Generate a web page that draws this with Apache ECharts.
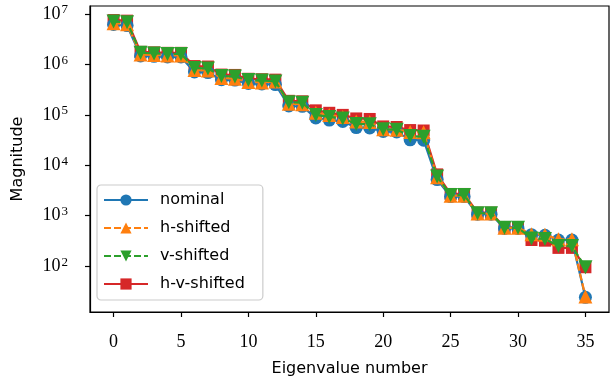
<!DOCTYPE html>
<html>
<head>
<meta charset="utf-8">
<script src="https://cdn.jsdelivr.net/npm/echarts@6/dist/echarts.min.js"></script>
<style>html,body{margin:0;padding:0;background:#fff}#c{width:611px;height:377px}</style>
</head>
<body>
<div id="c"></div>
<script>
const eigIndex = Array.from({length: 36}, (_, i) => i);
const xTicks = [0, 5, 10, 15, 20, 25, 30, 35];
const yTicks = [1e2, 1e3, 1e4, 1e5, 1e6, 1e7];
const seriesNames = ['nominal', 'h-shifted', 'v-shifted', 'h-v-shifted'];

const nominal = [6.2e6, 5.9e6, 1.48e6, 1.45e6, 1.41e6, 1.41e6, 7.1e5, 6.9e5, 5.0e5, 4.9e5, 4.2e5, 4.1e5, 4.0e5, 1.5e5, 1.48e5, 8.7e4, 7.9e4, 7.4e4, 5.6e4, 5.5e4, 4.7e4, 4.6e4, 3.2e4, 3.15e4, 5.2e3, 2.4e3, 2.4e3, 1.07e3, 1.07e3, 560, 560, 420, 410, 330, 330, 24];
const hShifted = [6.6e6, 6.3e6, 1.58e6, 1.55e6, 1.51e6, 1.51e6, 7.8e5, 7.6e5, 5.4e5, 5.2e5, 4.5e5, 4.4e5, 4.6e5, 1.66e5, 1.62e5, 1.1e5, 1.0e5, 9.1e4, 7.4e4, 7.2e4, 5.2e4, 5.1e4, 4.6e4, 4.5e4, 5.8e3, 2.5e3, 2.5e3, 1.1e3, 1.1e3, 575, 575, 430, 420, 340, 340, 25];
const vShifted = [7.1e6, 6.9e6, 1.7e6, 1.66e6, 1.62e6, 1.62e6, 8.5e5, 8.3e5, 5.9e5, 5.75e5, 4.9e5, 4.8e5, 4.6e5, 1.78e5, 1.74e5, 1.0e5, 9.1e4, 8.5e4, 6.6e4, 6.5e4, 5.2e4, 5.1e4, 3.8e4, 3.7e4, 6.0e3, 2.57e3, 2.57e3, 1.12e3, 1.12e3, 575, 575, 355, 345, 250, 250, 95];
const hvShifted = [7.6e6, 7.4e6, 1.78e6, 1.74e6, 1.7e6, 1.7e6, 9.3e5, 9.1e5, 6.3e5, 6.2e5, 5.2e5, 5.1e5, 5.0e5, 1.9e5, 1.86e5, 1.23e5, 1.1e5, 1.0e5, 8.5e4, 8.3e4, 5.9e4, 5.75e4, 5.0e4, 4.9e4, 6.6e3, 2.7e3, 2.7e3, 1.15e3, 1.15e3, 590, 590, 330, 320, 230, 230, 95];

const colors = ['#1f77b4', '#ff7f0e', '#2ca02c', '#d62728'];
const pair = arr => eigIndex.map((x, i) => [x, arr[i]]);

const chart = echarts.init(document.getElementById('c'), null, {renderer: 'canvas'});
function mk(name, data, color, symbol, dashed, z, rotate) {
  const size = symbol === 'rect' ? 12 : (symbol === 'circle' ? 13 : 14);
  return {
    name: name, type: 'line', data: pair(data), z: z,
    symbol: symbol, symbolSize: size, symbolRotate: rotate || 0,
    showAllSymbol: true,
    lineStyle: {color: color, width: 2.2, type: dashed ? [7, 3] : 'solid'},
    itemStyle: {color: color, borderColor: color, borderWidth: 0, opacity: 1},
    emphasis: {disabled: true}, animation: false
  };
}
chart.setOption({
  animation: false,
  color: colors,
  grid: {left: 90, right: 2, top: 6, bottom: 65, outerBoundsMode: 'none', containLabel: false,
         show: true, borderColor: '#000', borderWidth: 1.2, backgroundColor: 'transparent'},
  legend: {
    data: seriesNames, orient: 'vertical', left: 97, top: 185,
    padding: [7, 18, 8, 6], itemGap: 12, itemWidth: 44, itemHeight: 14,
    backgroundColor: 'rgba(255,255,255,0.8)', borderColor: '#cccccc', borderWidth: 1.2, borderRadius: 4,
    textStyle: {fontFamily: 'DejaVu Sans', fontSize: 16, color: '#000', padding: [0, 0, 0, 7]}
  },
  xAxis: {
    type: 'value', min: -1.75, max: 36.75,
    name: 'Eigenvalue number', nameLocation: 'middle', nameGap: 49,
    nameTextStyle: {fontFamily: 'DejaVu Sans', fontSize: 16, color: '#000'},
    axisLine: {show: true, onZero: false, lineStyle: {color: '#000', width: 1.2}},
    axisTick: {show: true, length: 5, inside: false, customValues: xTicks, lineStyle: {color: '#000', width: 1.2}},
    axisLabel: {customValues: xTicks, margin: 21, fontFamily: 'Liberation Serif', fontSize: 18, color: '#000'},
    splitLine: {show: false}
  },
  yAxis: {
    type: 'log', logBase: 10, min: 12.3, max: 1.445e7,
    name: 'Magnitude', nameLocation: 'middle', nameGap: 64, nameRotate: 90,
    nameTextStyle: {fontFamily: 'DejaVu Sans', fontSize: 16, color: '#000'},
    axisLine: {show: true, onZero: false, lineStyle: {color: '#000', width: 1.2}},
    axisTick: {show: true, length: 5, customValues: yTicks, lineStyle: {color: '#000', width: 1.2}},
    axisLabel: {
      customValues: yTicks, margin: 22, color: '#000',
      formatter: v => '{b|10}{s|' + Math.round(Math.log10(v)) + '}',
      rich: {
        b: {fontFamily: 'Liberation Serif', fontSize: 18, color: '#000'},
        s: {fontFamily: 'Liberation Serif', fontSize: 13, color: '#000', verticalAlign: 'top', padding: [0, 0, 8, 1]}
      }
    },
    splitLine: {show: false}
  },
  series: [
    mk(seriesNames[0], nominal, colors[0], 'circle', false, 2),
    mk(seriesNames[1], hShifted, colors[1], 'triangle', true, 3),
    mk(seriesNames[2], vShifted, colors[2], 'triangle', true, 4, 180),
    mk(seriesNames[3], hvShifted, colors[3], 'rect', false, 1)
  ]
});
</script>
</body>
</html>
